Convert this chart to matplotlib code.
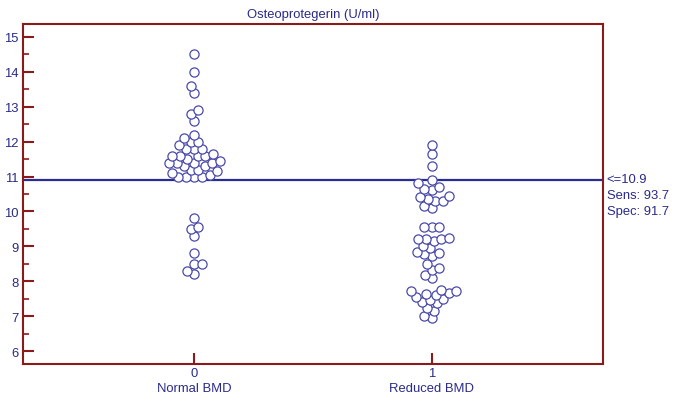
import numpy as np
import matplotlib
matplotlib.use("Agg")
import matplotlib.pyplot as plt
from matplotlib.ticker import MultipleLocator

plt.rcParams['font.family'] = ['Liberation Sans', 'DejaVu Sans']

group_labels = ["Normal BMD", "Reduced BMD"]
group_codes = ["0", "1"]
normal_bmd = [14.5, 14.0, 13.6, 13.4, 12.9, 12.8, 12.6, 12.2, 12.1, 12.0, 12.0,
              11.9, 11.8, 11.8, 11.8, 11.65, 11.6, 11.6, 11.6, 11.6, 11.5, 11.45,
              11.4, 11.4, 11.4, 11.4, 11.3, 11.3, 11.2, 11.2, 11.15, 11.1, 11.05,
              11.0, 11.0, 11.0, 11.0,
              9.8, 9.55, 9.5, 9.3, 8.8, 8.5, 8.5, 8.3, 8.2]
reduced_bmd = [11.9, 11.65, 11.3, 10.9, 10.8, 10.7, 10.65, 10.6, 10.45, 10.4, 10.35,
               10.3, 10.3, 10.15, 10.1, 9.55, 9.55, 9.55, 9.25, 9.2, 9.2, 9.2, 9.15,
               9.0, 8.95, 8.85, 8.8, 8.78, 8.73, 8.5, 8.38, 8.32, 8.19, 8.09, 7.75,
               7.73, 7.73, 7.66, 7.64, 7.6, 7.56, 7.5, 7.45, 7.4, 7.37, 7.24, 7.16,
               7.01, 6.95]
cutoff = 10.9
cutoff_text = "<=10.9\nSens: 93.7\nSpec: 91.7"
title = "Osteoprotegerin (U/ml)"

W, H, DPI = 6.78, 4.02, 100
fig = plt.figure(figsize=(W, H), dpi=DPI)
ax = fig.add_axes([0.034, 0.092, 0.855, 0.846])
xlim = (-0.72, 1.72)
ylim = (5.63, 15.37)
ax.set_xlim(*xlim)
ax.set_ylim(*ylim)

axw_px = 0.855 * W * DPI
axh_px = 0.846 * H * DPI
sx = axw_px / (xlim[1] - xlim[0])
sy = axh_px / (ylim[1] - ylim[0])
diam = 7.8  # px, collision spacing (markers may overlap slightly)


def swarm(values, center):
    vals = sorted(values)
    placed = []  # (x_px, y_px)
    out_x, out_y = [], []
    for v in vals:
        y = v * sy
        cands = [0.0]
        for (px, py) in placed:
            dy = abs(py - y)
            if dy < diam:
                dx = np.sqrt(diam ** 2 - dy ** 2) + 0.01
                cands += [px + dx, px - dx]
        cands.sort(key=lambda c: (abs(c), c))
        for c in cands:
            ok = all((c - px) ** 2 + (y - py) ** 2 >= diam ** 2 - 1e-6 for (px, py) in placed)
            if ok:
                placed.append((c, y))
                out_x.append(center + c / sx)
                out_y.append(v)
                break
    return out_x, out_y


dot_color = "#4a4aaa"
for i, data in enumerate([normal_bmd, reduced_bmd]):
    xs, ys = swarm(data, i)
    ax.plot(xs, ys, linestyle="none", marker="o", markersize=6.6,
            markerfacecolor="white", markeredgecolor=dot_color, markeredgewidth=0.9)

line_color = "#2b2b95"
ax.axhline(cutoff, color=line_color, linewidth=1.6, zorder=1)

spine_color = "#8b1a1a"
for s in ax.spines.values():
    s.set_color(spine_color)
    s.set_linewidth(1.5)

fs = 9.4
text_color = "#2a2a8a"
ax.yaxis.set_major_locator(MultipleLocator(1))
ax.yaxis.set_minor_locator(MultipleLocator(0.5))
ax.set_xticks([0, 1])
ax.set_xticklabels([f"{c}\n{l}" for c, l in zip(group_codes, group_labels)])
ax.tick_params(axis="y", which="major", direction="in", length=8, width=1.5,
               color=spine_color, labelcolor=text_color, labelsize=fs, pad=3)
ax.tick_params(axis="y", which="minor", direction="in", length=4, width=1.2,
               color=spine_color)
ax.tick_params(axis="x", which="major", direction="in", length=8, width=1.5,
               color=spine_color, labelcolor=text_color, labelsize=fs, pad=2)
for lab in ax.get_xticklabels():
    lab.set_linespacing(1.35)

ax.set_title(title, color=text_color, fontsize=fs, pad=5)
ax.text(1.007, cutoff + 0.21, cutoff_text, transform=ax.get_yaxis_transform(),
        color=text_color, fontsize=fs, va="top", ha="left", linespacing=1.45)

fig.savefig("out.png", dpi=DPI)
